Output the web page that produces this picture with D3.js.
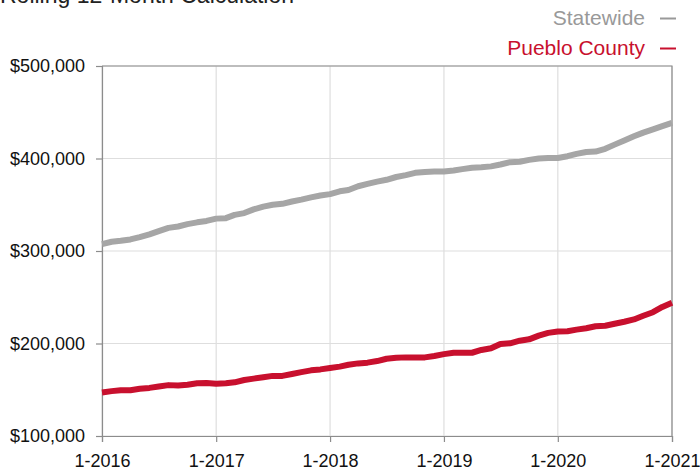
<!DOCTYPE html>
<html>
<head>
<meta charset="utf-8">
<script src="https://cdn.jsdelivr.net/npm/d3@7"></script>
<style>
  body { margin: 0; background: #fff; }
  svg { display: block; font-family: "Liberation Sans", Arial, sans-serif; }
</style>
</head>
<body>
<svg id="chart" width="700" height="468"></svg>
<script>
// data {{{ //
// median sales price, rolling 12 months, Jan 2016 .. Jan 2021 (61 months)
const months = d3.timeMonth.range(new Date(2016, 0, 1), new Date(2021, 1, 1));

const statewide = [
  307500, 310000, 311000, 312500, 315000, 318000, 321500, 325000, 326500, 329000, 331000, 332500,
  335000, 335500, 339000, 341000, 345000, 348000, 350000, 351000, 353500, 355500, 358000, 360000,
  361500, 364500, 366000, 370000, 372500, 375000, 377000, 380000, 382000, 384500, 385500, 386000,
  386000, 387000, 388500, 390000, 390500, 391500, 393500, 396000, 396500, 398500, 400000, 400500,
  400500, 402500, 405000, 407000, 407500, 410500, 415000, 419500, 424000, 428000, 431500, 435000,
  438500
];

const pueblo = [
  147000, 148500, 149500, 149500, 151000, 152000, 153500, 155000, 154500, 155500, 157000, 157300,
  156500, 157000, 158000, 160500, 162000, 163500, 165000, 165000, 167000, 169000, 171000, 172000,
  173500, 175000, 177000, 178500, 179300, 181000, 183500, 184500, 185000, 185000, 185000, 186500,
  188500, 190000, 190000, 190000, 193000, 194800, 199500, 200200, 203000, 204500, 208500, 211500,
  213000, 213300, 215000, 216500, 218600, 219200, 221300, 223500, 226000, 230000, 233800, 239500,
  244000
];

const yTicks = [100000, 200000, 300000, 400000, 500000];
const xTicks = [2016, 2017, 2018, 2019, 2020, 2021];

const seriesNames = ["Statewide", "Pueblo County"];
const seriesColors = ["#a6a6a6", "#c8102e"];
// }}} data //

const svg = d3.select("#chart");
const margin = { top: 66, right: 28, bottom: 32, left: 102 };
const width = 700 - margin.left - margin.right;
const height = 468 - margin.top - margin.bottom;

const x = d3.scaleTime()
  .domain([new Date(2016, 0, 1), new Date(2021, 0, 1)])
  .range([0, width]);
const y = d3.scaleLinear()
  .domain([100000, 500000])
  .range([height, 0]);

const g = svg.append("g").attr("transform", `translate(${margin.left},${margin.top})`);

// grid {{{ //
g.append("g")
  .selectAll("line")
  .data(yTicks)
  .enter().append("line")
  .attr("x1", 0).attr("x2", width)
  .attr("y1", d => y(d)).attr("y2", d => y(d))
  .attr("stroke", "#dedede").attr("stroke-width", 1.2);

g.append("g")
  .selectAll("line")
  .data(xTicks)
  .enter().append("line")
  .attr("x1", d => x(new Date(d, 0, 1))).attr("x2", d => x(new Date(d, 0, 1)))
  .attr("y1", 0).attr("y2", height)
  .attr("stroke", "#dedede").attr("stroke-width", 1.2);

// frame top / right
g.append("path")
  .attr("d", `M0,${y(500000)}H${width}V${height}`)
  .attr("fill", "none").attr("stroke", "#8c8c8c").attr("stroke-width", 1.2);
// }}} grid //

// axes {{{ //
const yAxis = g.append("g")
  .call(d3.axisLeft(y)
    .tickValues(yTicks)
    .tickSize(6)
    .tickPadding(11)
    .tickFormat(d => "$" + d3.format(",")(d)));

const xAxis = g.append("g")
  .attr("transform", `translate(0,${height})`)
  .call(d3.axisBottom(x)
    .tickValues(xTicks.map(d => new Date(d, 0, 1)))
    .tickSize(6)
    .tickPadding(12)
    .tickFormat(d => "1-" + d.getFullYear()));

[yAxis, xAxis].forEach(a => {
  a.select(".domain").attr("stroke", "#8c8c8c").attr("stroke-width", 1.2);
  a.selectAll(".tick line").attr("stroke", "#8c8c8c").attr("stroke-width", 1.2);
  a.selectAll(".tick text")
    .attr("fill", "#111")
    .style("font-size", "18px")
    .style("font-family", "'Liberation Sans', Arial, sans-serif");
});
// }}} axes //

// lines {{{ //
const line = d3.line()
  .x((d, i) => x(months[i]))
  .y(d => y(d));

[statewide, pueblo].forEach((s, k) => {
  g.append("path")
    .datum(s)
    .attr("d", line)
    .attr("fill", "none")
    .attr("stroke", seriesColors[k])
    .attr("stroke-width", 6)
    .attr("stroke-linejoin", "round")
    .attr("stroke-linecap", "butt");
});
// }}} lines //

// title + legend {{{ //
svg.append("text")
  .attr("x", 0)
  .attr("y", 3)
  .attr("fill", "#222")
  .style("font-size", "23px")
  .text("Rolling 12-Month Calculation");

const legend = svg.append("g")
  .selectAll("g")
  .data(seriesNames)
  .enter().append("g")
  .attr("transform", (d, i) => `translate(0,${25 + i * 30})`);

legend.append("text")
  .attr("x", 645)
  .attr("text-anchor", "end")
  .attr("fill", (d, i) => i === 0 ? "#999" : seriesColors[i])
  .style("font-size", "21px")
  .text(d => d);

legend.append("line")
  .attr("x1", 660).attr("x2", 676)
  .attr("y1", -6.5).attr("y2", -6.5)
  .attr("stroke", (d, i) => i === 0 ? "#999" : seriesColors[i])
  .attr("stroke-width", 2);
// }}} title + legend //
</script>
</body>
</html>
